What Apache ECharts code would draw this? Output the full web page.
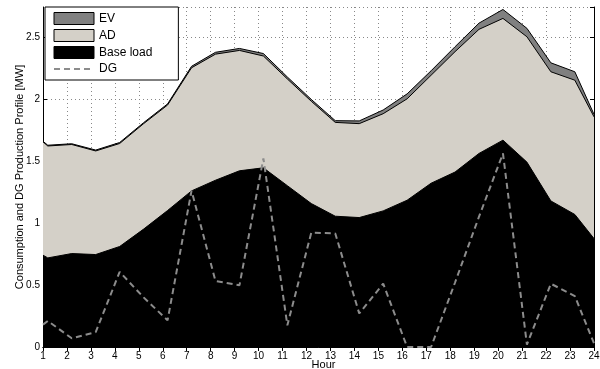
<!DOCTYPE html>
<html>
<head>
<meta charset="utf-8">
<script src="https://cdn.jsdelivr.net/npm/echarts@6/dist/echarts.min.js"></script>
<style>
  html, body { margin: 0; padding: 0; background: #fff; }
  #chart { width: 600px; height: 369px; }
</style>
</head>
<body>
<div id="chart"></div>
<script>
// hour positions of the samples (the first one sits on hour 1, the rest are shifted a bit)
var hours = [1, 1.2, 2.2, 3.2, 4.2, 5.2, 6.2, 7.2, 8.2, 9.2, 10.2, 11.2, 12.2,
             13.2, 14.2, 15.2, 16.2, 17.2, 18.2, 19.2, 20.2, 21.2, 22.2, 23.2, 24];
var baseLoad = [0.74, 0.718, 0.753, 0.745, 0.81, 0.95, 1.10, 1.258, 1.344, 1.42, 1.444, 1.30, 1.156,
                1.054, 1.043, 1.097, 1.183, 1.32, 1.41, 1.56, 1.667, 1.49, 1.177, 1.068, 0.874];
var adLoad = [0.913, 0.902, 0.879, 0.835, 0.83, 0.85, 0.85, 0.992, 1.016, 0.97, 0.901, 0.86, 0.824,
              0.756, 0.757, 0.783, 0.817, 0.87, 0.97, 1.0, 0.981, 1.01, 1.041, 1.082, 0.981];
var evLoad = [0.005, 0.006, 0.006, 0.007, 0.008, 0.008, 0.009, 0.012, 0.015, 0.016, 0.02, 0.016, 0.015,
              0.014, 0.022, 0.03, 0.04, 0.036, 0.04, 0.05, 0.072, 0.068, 0.072, 0.068, 0.02];
var dgProd = [0.18, 0.21, 0.07, 0.12, 0.605, 0.40, 0.215, 1.26, 0.532, 0.497, 1.52, 0.175, 0.922,
              0.915, 0.27, 0.51, 0, 0, 0.52, 1.05, 1.56, 0.02, 0.51, 0.41, 0.03];
var xTicks = [1, 24];
var yTicks = [0, 2.74];

// stack the layers by hand: each area is filled down to zero, drawn from the top layer first
var adTop = [], evTop = [];
for (var k = 0; k < hours.length; k++) {
    adTop.push(baseLoad[k] + adLoad[k]);
    evTop.push(baseLoad[k] + adLoad[k] + evLoad[k]);
}

function pairs(vals) {
    var out = [];
    for (var i = 0; i < hours.length; i++) {
        out.push([hours[i], vals[i]]);
    }
    return out;
}

var font = 'Liberation Sans, Arial, sans-serif';
var myChart = echarts.init(document.getElementById('chart'));

var rectItem = { borderColor: '#000', borderWidth: 1 };
var option = {
    animation: false,
    textStyle: { fontFamily: font },
    grid: { left: 43, right: 6, top: 7, bottom: 22, outerBoundsMode: 'none', containLabel: false },
    legend: {
        orient: 'vertical',
        left: 45,
        top: 7,
        itemWidth: 40,
        itemHeight: 12,
        itemGap: 4,
        padding: [5, 26, 5, 8],
        backgroundColor: '#fff',
        borderColor: '#000',
        borderWidth: 1,
        borderRadius: 0,
        textStyle: { fontSize: 12, color: '#000', fontFamily: font },
        data: [
            { name: 'EV', icon: 'rect', itemStyle: rectItem },
            { name: 'AD', icon: 'rect', itemStyle: rectItem },
            { name: 'Base load', icon: 'rect', itemStyle: rectItem },
            { name: 'DG', itemStyle: { color: 'transparent', borderColor: 'transparent', borderWidth: 0, opacity: 0 } }
        ]
    },
    xAxis: [{
        type: 'value',
        min: xTicks[0],
        max: xTicks[1],
        interval: 1,
        name: 'Hour',
        nameLocation: 'middle',
        nameGap: 12,
        nameMoveOverlap: false,
        nameTextStyle: { fontSize: 11, color: '#000', padding: [0, 0, 0, 10] },
        axisLine: { lineStyle: { color: '#000', width: 1 } },
        axisTick: { inside: true, length: 4, lineStyle: { color: '#000' } },
        axisLabel: { fontSize: 10, color: '#000', margin: 4 },
        splitLine: { show: true, lineStyle: { color: '#888', type: [1, 3], width: 1 } }
    }, {
        type: 'value',
        position: 'top',
        min: xTicks[0],
        max: xTicks[1],
        interval: 1,
        axisLine: { lineStyle: { color: '#000', width: 1 } },
        axisTick: { inside: true, length: 4, lineStyle: { color: '#000' } },
        axisLabel: { show: false },
        splitLine: { show: false }
    }],
    yAxis: [{
        type: 'value',
        min: yTicks[0],
        max: yTicks[1],
        interval: 0.5,
        name: 'Consumption and DG Production Profile [MW]',
        nameLocation: 'middle',
        nameGap: 18,
        nameMoveOverlap: false,
        nameTextStyle: { fontSize: 11, color: '#000' },
        axisLine: { show: true, lineStyle: { color: '#000', width: 1 } },
        axisTick: { show: true, inside: true, length: 4, lineStyle: { color: '#000' } },
        axisLabel: { fontSize: 10, color: '#000', margin: 3, showMaxLabel: false },
        splitLine: { show: true, lineStyle: { color: '#888', type: [1, 3], width: 1 } }
    }, {
        type: 'value',
        position: 'right',
        min: yTicks[0],
        max: yTicks[1],
        interval: 0.5,
        axisLine: { show: true, lineStyle: { color: '#000', width: 1 } },
        axisTick: { show: true, inside: true, length: 4, lineStyle: { color: '#000' } },
        axisLabel: { show: false },
        splitLine: { show: false }
    }],
    series: [{
        name: 'EV',
        type: 'line',
        symbol: 'none',
        color: '#808080',
        lineStyle: { color: '#000', width: 1 },
        areaStyle: { color: '#808080', opacity: 1 },
        data: pairs(evTop)
    }, {
        name: 'AD',
        type: 'line',
        symbol: 'none',
        color: '#d4d0c8',
        lineStyle: { color: '#000', width: 1 },
        areaStyle: { color: '#d4d0c8', opacity: 1 },
        data: pairs(adTop)
    }, {
        name: 'Base load',
        type: 'line',
        symbol: 'none',
        color: '#000',
        lineStyle: { color: '#000', width: 1 },
        areaStyle: { color: '#000', opacity: 1 },
        data: pairs(baseLoad)
    }, {
        name: 'DG',
        type: 'line',
        symbol: 'none',
        color: '#8c8c8c',
        lineStyle: { color: '#8c8c8c', width: 2, type: [6, 4] },
        z: 5,
        data: pairs(dgProd)
    }]
};

if (option && typeof option === "object") {
    myChart.setOption(option, true);
}
</script>
</body>
</html>
